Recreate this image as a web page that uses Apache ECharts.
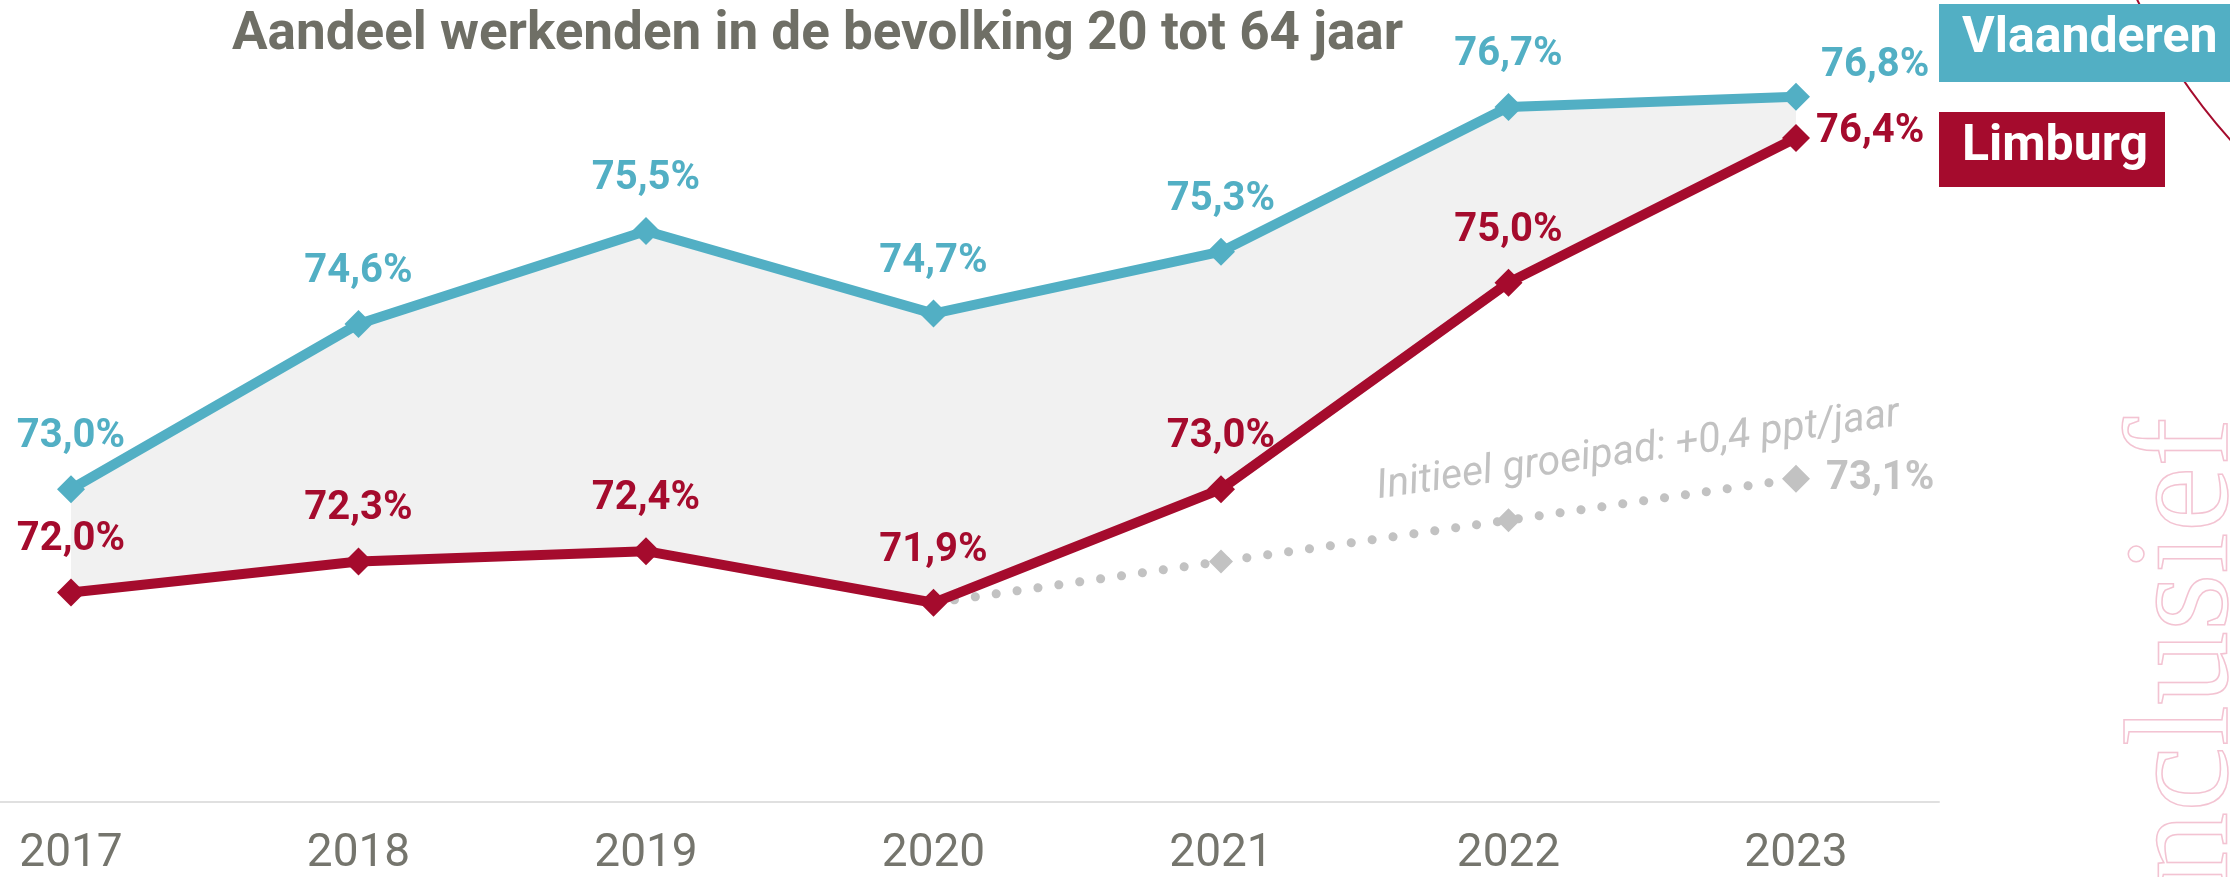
<!DOCTYPE html>
<html>
<head>
<meta charset="utf-8">
<script src="https://cdn.jsdelivr.net/npm/echarts@6/dist/echarts.min.js"></script>
<style>
  html, body { margin: 0; padding: 0; background: #fff; }
  #chart { width: 2230px; height: 877px; }
</style>
</head>
<body>
<div id="chart"></div>
<script>
// data
const years = ["2017", "2018", "2019", "2020", "2021", "2022", "2023"];
const vlaanderen = [73.0, 74.6, 75.5, 74.7, 75.3, 76.7, 76.8];
const limburg = [72.0, 72.3, 72.4, 71.9, 73.0, 75.0, 76.4];
const groeipad = [null, null, null, 71.9, 72.3, 72.7, 73.1];
const groeipadLabel = "Initieel groeipad: +0,4 ppt/jaar";

const TEAL = "#52afc4";
const RED = "#a50b2d";
const GREY = "#c2c2c2";
const FONT = "Roboto";

const fmt = (v) => v.toFixed(1).replace(".", ",") + "%";
const last = years.length - 1;

let chart = echarts.init(document.getElementById("chart"));

const valueLabel = (color) => ({
  show: true,
  position: "top",
  distance: 18,
  color: color,
  fontFamily: FONT,
  fontWeight: "bold",
  fontSize: 40,
  formatter: (p) => fmt(p.value),
});

const lineData = (arr, lastOffset, lastDist) =>
  arr.map((v, i) =>
    i === last
      ? { value: v, label: { position: "right", distance: lastDist, offset: lastOffset } }
      : v
  );

const gap = vlaanderen.map((v, i) => Math.round((v - limburg[i]) * 10) / 10);

const grid = { top: 3.8, bottom: 75.5 };

let option = {
  animation: false,
  title: {
    text: "Aandeel werkenden in de bevolking 20 tot 64 jaar",
    left: 232,
    top: 9,
    padding: 0,
    textStyle: { fontFamily: FONT, fontWeight: "bold", fontSize: 53, color: "#6f6f66" },
  },
  grid: [
    { left: 71, right: 434, ...grid },
    { left: 0, width: 1939, ...grid },
  ],
  xAxis: [
    {
      type: "category",
      gridIndex: 0,
      data: years,
      boundaryGap: false,
      axisLine: { show: false },
      axisTick: { show: false },
      splitLine: { show: false },
      axisLabel: { margin: 32, color: "#75756d", fontFamily: FONT, fontSize: 46 },
    },
    {
      type: "value",
      gridIndex: 1,
      min: 0,
      max: 1,
      axisLine: { show: true, lineStyle: { color: "#e0e0e0", width: 2 } },
      axisTick: { show: false },
      axisLabel: { show: false },
      splitLine: { show: false },
    },
  ],
  yAxis: [
    { type: "value", gridIndex: 0, min: 70, max: 77.7, show: false },
    { type: "value", gridIndex: 1, min: 0, max: 1, show: false },
  ],
  graphic: [
    {
      type: "circle",
      shape: { cx: 2671, cy: -254, r: 591 },
      style: { fill: "none", stroke: RED, lineWidth: 2 },
      z: 1,
    },
    {
      type: "text",
      x: 2262,
      y: 927,
      rotation: Math.PI / 2,
      style: {
        text: "inclusief",
        font: "148px 'Liberation Serif'",
        fill: "none",
        stroke: "#f3c3d2",
        lineWidth: 1.5,
        align: "left",
        verticalAlign: "bottom",
      },
      z: 1,
    },
    {
      type: "rect",
      shape: { x: 1939, y: 4, width: 300, height: 78 },
      style: { fill: TEAL },
      z: 5,
    },
    {
      type: "text",
      x: 1962,
      y: 39,
      style: {
        text: "Vlaanderen",
        font: "bold 50px Roboto",
        fill: "#fff",
        verticalAlign: "middle",
      },
      z: 6,
    },
    {
      type: "rect",
      shape: { x: 1939, y: 112, width: 226, height: 75 },
      style: { fill: RED },
      z: 5,
    },
    {
      type: "text",
      x: 1962,
      y: 147,
      style: {
        text: "Limburg",
        font: "bold 50px Roboto",
        fill: "#fff",
        verticalAlign: "middle",
      },
      z: 6,
    },
  ],
  series: [
    {
      name: "basis",
      type: "line",
      stack: "band",
      data: limburg,
      symbol: "none",
      lineStyle: { opacity: 0 },
      silent: true,
      z: 1,
    },
    {
      name: "verschil",
      type: "line",
      stack: "band",
      data: gap,
      symbol: "none",
      lineStyle: { opacity: 0 },
      areaStyle: { color: "#f1f1f1", opacity: 1 },
      silent: true,
      z: 1,
    },
    {
      name: "Initieel groeipad",
      type: "line",
      data: groeipad.map((v, i) => {
        if (v === null) return "-";
        if (i === last) {
          return {
            value: v,
            label: {
              show: true,
              position: "right",
              distance: 16,
              color: GREY,
              fontFamily: FONT,
              fontWeight: "bold",
              fontSize: 40,
              formatter: (p) => fmt(p.value),
            },
          };
        }
        if (i === 5) {
          return {
            value: v,
            label: {
              show: true,
              position: "inside",
              offset: [138, -50],
              rotate: 8,
              color: GREY,
              fontFamily: FONT,
              fontStyle: "italic",
              fontSize: 41,
              formatter: groeipadLabel,
            },
          };
        }
        return v;
      }),
      symbol: "diamond",
      symbolSize: (v, p) => (p.dataIndex === 3 ? 0 : p.dataIndex === last ? 28 : 24),
      itemStyle: { color: GREY },
      lineStyle: { color: GREY, width: 9, type: [0.1, 21], cap: "round" },
      z: 2,
    },
    {
      name: "Limburg",
      type: "line",
      data: lineData(limburg, [0, -6], 6),
      symbol: "diamond",
      symbolSize: 28,
      itemStyle: { color: RED },
      lineStyle: { color: RED, width: 10 },
      label: valueLabel(RED),
      z: 3,
    },
    {
      name: "Vlaanderen",
      type: "line",
      data: lineData(vlaanderen, [0, -31], 11),
      symbol: "diamond",
      symbolSize: 28,
      itemStyle: { color: TEAL },
      lineStyle: { color: TEAL, width: 10 },
      label: valueLabel(TEAL),
      z: 3,
    },
  ],
};

chart.setOption(option);
</script>
</body>
</html>
